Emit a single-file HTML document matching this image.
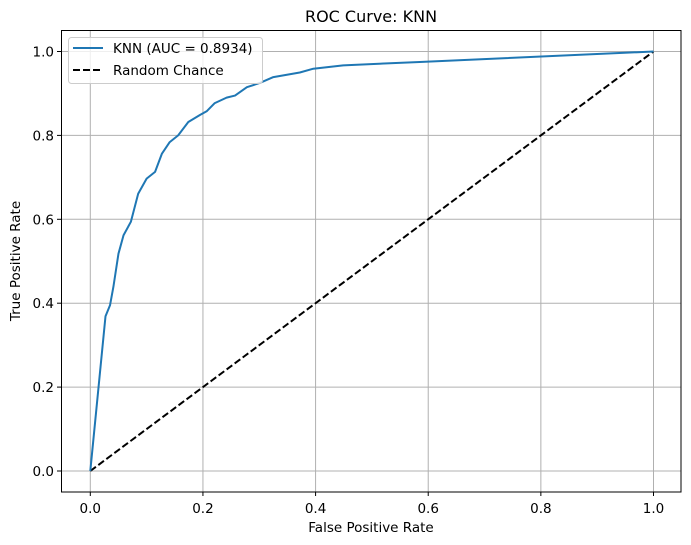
<!DOCTYPE html>
<html><head><meta charset="utf-8"><style>
body{margin:0;background:#fff;}
svg{display:block;font-family:"DejaVu Sans","Liberation Sans",sans-serif;}
</style></head><body>
<svg id="chart" width="691" height="545" viewBox="0 0 691 545" xmlns="http://www.w3.org/2000/svg">
<text x="371" y="22" font-size="16" text-anchor="middle">ROC Curve: KNN</text>
<g id="grid"></g>
<g id="ticks"></g>
<g id="series"></g>
<rect x="61.5" y="30.5" width="619.5" height="461.5" fill="none" stroke="#000" stroke-width="1"/>
<text x="371" y="532" font-size="13.5" text-anchor="middle">False Positive Rate</text>
<text x="20" y="261" font-size="13.5" text-anchor="middle" transform="rotate(-90 20 261)">True Positive Rate</text>
<g>
<rect x="68.5" y="37.5" width="194" height="46" rx="3" fill="#fff" fill-opacity="0.8" stroke="#ccc"/>
<line x1="73" y1="48" x2="103" y2="48" stroke="#1f77b4" stroke-width="2"/>
<text x="113" y="53" font-size="13.5">KNN (AUC = 0.8934)</text>
<line x1="73" y1="70" x2="103" y2="70" stroke="#000" stroke-width="2" stroke-dasharray="7,3"/>
<text x="113" y="75" font-size="13.5">Random Chance</text>
</g>
</svg>
<script>
const fpr=[0,0.027,0.035,0.041,0.050,0.059,0.072,0.085,0.100,0.115,0.127,0.141,0.156,0.174,0.195,0.207,0.221,0.242,0.257,0.278,0.301,0.325,0.372,0.396,0.449,0.585,1];
const tpr=[0,0.369,0.395,0.439,0.518,0.562,0.594,0.661,0.697,0.713,0.756,0.784,0.800,0.832,0.849,0.858,0.877,0.890,0.895,0.915,0.925,0.939,0.950,0.959,0.967,0.975,1];
const xTicks=[0,0.2,0.4,0.6,0.8,1.0];
const yTicks=[0,0.2,0.4,0.6,0.8,1.0];
const X=v=>90.3+v*563.2;
const Y=v=>471-v*419.5;
const NS="http://www.w3.org/2000/svg";
function mk(tag,attrs,parent){const e=document.createElementNS(NS,tag);for(const k in attrs)e.setAttribute(k,attrs[k]);parent.appendChild(e);return e;}
const grid=document.getElementById('grid'),ticks=document.getElementById('ticks'),series=document.getElementById('series');
xTicks.forEach(t=>{
 const g=mk('line',{x1:X(t),x2:X(t),y1:30,y2:492,stroke:'#b0b0b0','stroke-width':1},grid);
 
 
 mk('line',{x1:X(t),x2:X(t),y1:492,y2:496,stroke:'#000'},ticks);
 const l=mk('text',{x:X(t),y:513,'font-size':13.5,'text-anchor':'middle'},ticks);
 l.textContent=t.toFixed(1);
 
 
});
yTicks.forEach(t=>{
 const g=mk('line',{x1:61,x2:681,y1:Y(t),y2:Y(t),stroke:'#b0b0b0','stroke-width':1},grid);
 
 
 mk('line',{x1:57,x2:61,y1:Y(t),y2:Y(t),stroke:'#000'},ticks);
 const l=mk('text',{x:54,y:Y(t)+5,'font-size':13.5,'text-anchor':'end'},ticks);
 l.textContent=t.toFixed(1);
 
 
});
const diag=mk('line',{x1:X(0),y1:Y(0),x2:X(1),y2:Y(1),stroke:'#000','stroke-width':2,'stroke-dasharray':'7,3'},series);


const roc=mk('polyline',{points:fpr.map((f,i)=>X(f)+','+Y(tpr[i])).join(' '),fill:'none',stroke:'#1f77b4','stroke-width':2,'stroke-linejoin':'round'},series);


</script>
</body></html>
